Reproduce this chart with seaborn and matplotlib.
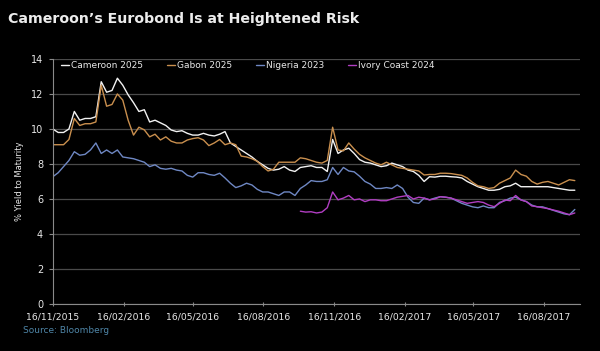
import numpy as np
import pandas as pd
import matplotlib
matplotlib.use("Agg")
import matplotlib.pyplot as plt
import matplotlib.dates as mdates
import seaborn as sns

start_date = "2015-11-16"
n_weeks = 98

cameroon = [10.0, 9.8, 9.8, 10.0, 11.0, 10.5, 10.6, 10.6, 10.7, 12.7,
            12.1, 12.2, 12.9, 12.5, 11.95, 11.5, 11.0, 11.1, 10.4, 10.5,
            10.35, 10.2, 9.94, 9.85, 9.9, 9.75, 9.65, 9.65, 9.75, 9.65,
            9.6, 9.7, 9.85, 9.2, 9.0, 8.8, 8.6, 8.4, 8.15, 7.95,
            7.75, 7.65, 7.7, 7.85, 7.65, 7.57, 7.8, 7.85, 7.9, 7.8,
            7.8, 7.57, 9.4, 8.6, 8.8, 8.9, 8.6, 8.25, 8.1, 8.05,
            7.95, 7.85, 7.9, 8.05, 7.95, 7.85, 7.65, 7.57, 7.35, 7.0,
            7.27, 7.25, 7.3, 7.3, 7.27, 7.25, 7.2, 7.0, 6.85, 6.7,
            6.6, 6.5, 6.5, 6.55, 6.7, 6.75, 6.9, 6.7, 6.7, 6.7,
            6.7, 6.7, 6.7, 6.65, 6.6, 6.55, 6.5, 6.5]

gabon = [9.1, 9.1, 9.1, 9.4, 10.6, 10.2, 10.3, 10.3, 10.4, 12.5,
         11.3, 11.4, 12.0, 11.65, 10.5, 9.65, 10.1, 9.95, 9.55, 9.7,
         9.37, 9.55, 9.3, 9.2, 9.2, 9.37, 9.45, 9.5, 9.37, 9.05,
         9.2, 9.4, 9.1, 9.2, 9.1, 8.45, 8.4, 8.3, 8.15, 7.85,
         7.6, 7.7, 8.1, 8.1, 8.1, 8.1, 8.35, 8.3, 8.2, 8.1,
         8.05, 8.2, 10.1, 8.8, 8.75, 9.2, 8.85, 8.55, 8.35, 8.2,
         8.05, 7.95, 8.1, 7.95, 7.8, 7.75, 7.7, 7.65, 7.6, 7.37,
         7.4, 7.4, 7.47, 7.47, 7.45, 7.4, 7.35, 7.2, 6.95, 6.75,
         6.7, 6.6, 6.65, 6.9, 7.05, 7.2, 7.65, 7.4, 7.3, 7.0,
         6.85, 6.95, 7.0, 6.9, 6.8, 6.95, 7.1, 7.05]

nigeria = [7.27, 7.5, 7.85, 8.2, 8.7, 8.5, 8.55, 8.8, 9.2, 8.6,
           8.8, 8.6, 8.8, 8.4, 8.35, 8.3, 8.2, 8.1, 7.85, 7.95,
           7.75, 7.7, 7.75, 7.65, 7.6, 7.35, 7.25, 7.5, 7.5, 7.4,
           7.35, 7.47, 7.2, 6.9, 6.65, 6.75, 6.9, 6.8, 6.55, 6.4,
           6.4, 6.3, 6.2, 6.4, 6.4, 6.2, 6.6, 6.8, 7.05, 7.0,
           7.0, 7.1, 7.8, 7.4, 7.8, 7.6, 7.55, 7.3, 7.0, 6.85,
           6.6, 6.6, 6.65, 6.6, 6.8, 6.6, 6.1, 5.8, 5.75, 6.05,
           5.95, 6.05, 6.13, 6.1, 6.05, 5.9, 5.75, 5.65, 5.55, 5.5,
           5.6, 5.5, 5.5, 5.8, 5.9, 6.05, 6.1, 5.95, 5.85, 5.65,
           5.55, 5.55, 5.45, 5.35, 5.25, 5.15, 5.1, 5.4]

ivory_start_week = 46
ivory_coast = [5.3, 5.25, 5.27, 5.2, 5.25, 5.5, 6.4, 5.95, 6.05, 6.2,
               5.95, 6.0, 5.85, 5.95, 5.95, 5.9, 5.9, 6.0, 6.1, 6.15,
               6.2, 6.0, 6.1, 6.05, 5.95, 6.0, 6.13, 6.1, 6.05, 5.95,
               5.85, 5.75, 5.8, 5.85, 5.8, 5.65, 5.56, 5.75, 5.94, 5.9,
               6.2, 5.94, 5.85, 5.6, 5.56, 5.5, 5.45, 5.37, 5.3, 5.2,
               5.1, 5.2]

series_names = ["Cameroon 2025", "Gabon 2025", "Nigeria 2023", "Ivory Coast 2024"]
colors = ["#f2f2f2", "#c98f4e", "#6f88c4", "#b13ec2"]

tick_labels = ["16/11/2015", "16/02/2016", "16/05/2016", "16/08/2016",
               "16/11/2016", "16/02/2017", "16/05/2017", "16/08/2017"]

dates = pd.date_range(start_date, periods=n_weeks, freq="7D")
frames = [
    pd.DataFrame({"date": dates, "value": cameroon, "bond": series_names[0]}),
    pd.DataFrame({"date": dates, "value": gabon, "bond": series_names[1]}),
    pd.DataFrame({"date": dates, "value": nigeria, "bond": series_names[2]}),
    pd.DataFrame({"date": dates[ivory_start_week:ivory_start_week + len(ivory_coast)],
                  "value": ivory_coast, "bond": series_names[3]}),
]
df = pd.concat(frames, ignore_index=True)

sns.set_theme(style="dark")
plt.rcParams["font.family"] = ["DejaVu Sans"]

fig = plt.figure(figsize=(6.0, 3.51), dpi=100, facecolor="black")
ax = fig.add_axes([0.088, 0.134, 0.879, 0.698])
ax.set_facecolor("black")

sns.lineplot(data=df, x="date", y="value", hue="bond", hue_order=series_names,
             palette=dict(zip(series_names, colors)), linewidth=1.0, ax=ax)

ax.set_ylim(0, 14)
ax.set_yticks(range(0, 15, 2))
ax.set_xlim(pd.Timestamp("2015-11-16"), pd.Timestamp("2017-10-02"))
tick_dates = [pd.to_datetime(t, format="%d/%m/%Y") for t in tick_labels]
ax.set_xticks(tick_dates)
ax.set_xticklabels(tick_labels)

ax.grid(axis="y", color="#4a4a4a", linewidth=0.9)
ax.grid(axis="x", visible=False)
for s in ["top", "right"]:
    ax.spines[s].set_visible(False)
for s in ["left", "bottom"]:
    ax.spines[s].set_visible(True)
    ax.spines[s].set_color("#8a8a8a")
    ax.spines[s].set_linewidth(0.8)

ax.tick_params(axis="x", colors="#e8e8e8", labelsize=6.7, length=3, width=0.8,
               direction="inout", bottom=True, pad=5)
ax.tick_params(axis="x", color="#8a8a8a")
ax.tick_params(axis="y", colors="#e8e8e8", labelsize=7, length=3, width=0.8,
               left=True, pad=4)
ax.tick_params(axis="y", color="#8a8a8a")
ax.set_xlabel("")
ax.set_ylabel("% Yield to Maturity", color="#e8e8e8", fontsize=6, labelpad=5)

leg = ax.legend(loc="upper left", bbox_to_anchor=(0.0, 1.025), ncol=4, frameon=False,
                handlelength=0.9, handletextpad=0.25, columnspacing=2.6,
                fontsize=6.5)
for t in leg.get_texts():
    t.set_color("#e8e8e8")

fig.text(0.013, 0.947, "Cameroon’s Eurobond Is at Heightened Risk", color="#ececec",
         fontsize=10.2, fontweight="bold", ha="left", va="center")
fig.text(0.038, 0.057, "Source: Bloomberg", color="#4f86a8", fontsize=6.5,
         ha="left", va="center")

fig.savefig("out.png", dpi=100, facecolor="black")
